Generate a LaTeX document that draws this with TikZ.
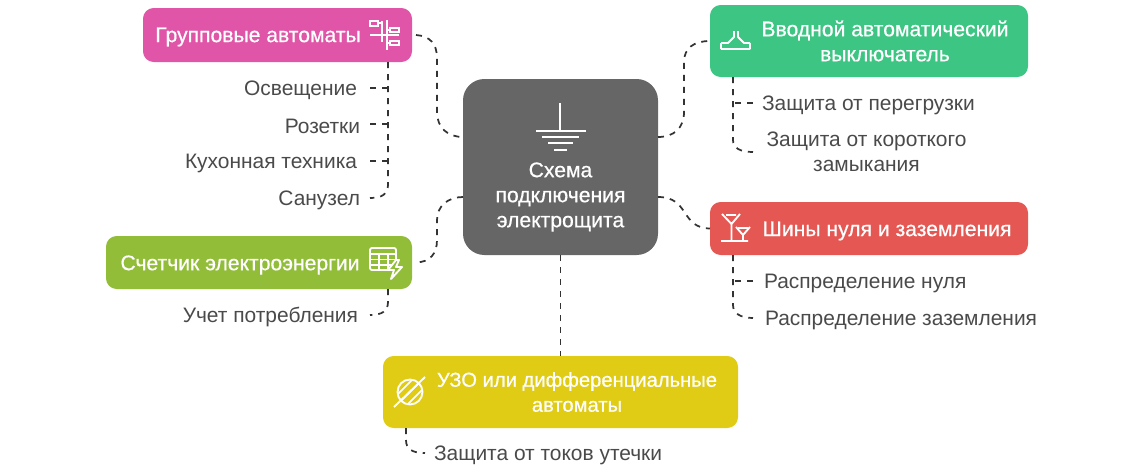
\documentclass[tikz,border=0pt]{standalone}
\usepackage{fontspec}
\usetikzlibrary{calc}
\setmainfont{Liberation Sans}
\newfontfamily\boxfont[FakeBold=0.6]{Liberation Sans}
\definecolor{cpink}{HTML}{E055A8}
\definecolor{cgreen}{HTML}{3DC583}
\definecolor{cred}{HTML}{E55753}
\definecolor{colive}{HTML}{92BD39}
\definecolor{cyel}{HTML}{E0CB15}
\definecolor{cgrey}{HTML}{666666}
\definecolor{ctext}{HTML}{4A4A4A}
\definecolor{cline}{HTML}{333333}
\tikzset{
  x=0.75pt,y=-0.75pt,
  sub/.style={fill=#1,rounded corners=8pt,text=white,inner sep=0pt,outer sep=0pt,align=center},
  lab/.style={text=ctext,inner sep=0pt,outer sep=0pt,align=center,font=\fontsize{15.7}{18.75}\selectfont},
  ttl/.style={text=white,inner sep=0pt,outer sep=0pt,align=center,font=\boxfont\fontsize{15.85}{18.75}\selectfont},
  conn/.style={draw=cline,line width=1.3pt,dash pattern=on 4.5pt off 4.5pt},
  ico/.style={draw=white,line width=1.4pt},
}
\newcommand{\bx}[7][]{\node[sub=#3,#1,minimum width=#6*0.75pt-#4*0.75pt,minimum height=#7*0.75pt-#5*0.75pt] (#2) at ({(#4+#6)/2},{(#5+#7)/2}) {};}
\begin{document}
\begin{tikzpicture}
\useasboundingbox (0,0) rectangle (1140,471);
\bx[rounded corners=16pt]{ctr}{cgrey}{463}{79}{658}{255}
\bx{pk}{cpink}{143}{8}{412}{62}
\bx{gr}{cgreen}{710}{5}{1028}{77}
\bx{rd}{cred}{710}{202}{1028}{255}
\bx{ol}{colive}{106}{236}{412}{289}
\bx{ye}{cyel}{383}{356}{738}{428}
% titles
\node[ttl] (tc) at (560.5,197) {Схема\\подключения\\электрощита};
\node[ttl] (tp) at (258,37) {Групповые автоматы};
\node[ttl] (tg) at (885,41) {Вводной автоматический\\выключатель};
\node[ttl] (tr) at (887,231) {Шины нуля и заземления};
\node[ttl] (to) at (240,265) {Счетчик электроэнергии};
\node[ttl,font=\boxfont\fontsize{15.15}{18.75}\selectfont] (ty) at (577,392) {УЗО или дифференциальные\\автоматы};
% labels
\node[lab,anchor=east] (l1) at (357,90) {Освещение};
\node[lab,anchor=east] (l2) at (360,126) {Розетки};
\node[lab,anchor=east] (l3) at (357,163) {Кухонная техника};
\node[lab,anchor=east] (l4) at (360,200) {Санузел};
\node[lab,anchor=east] (l5) at (358,317) {Учет потребления};
\node[lab,anchor=west] (r1) at (762,105) {Защита от перегрузки};
\node[lab] (r2) at (866.5,152) {Защита от короткого\\замыкания};
\node[lab,anchor=west] (r3) at (764,283) {Распределение нуля};
\node[lab,anchor=west] (r4) at (765,320) {Распределение заземления};
\node[lab,anchor=west] (y1) at (434,455) {Защита от токов утечки};
% hub connectors
\draw[conn] ($(pk.east)+(4,0)$) .. controls (430,36) and (437,44) .. (437,58) -- (437,112) .. controls (437,128) and (448,137) .. ($(ctr.west)+(0,-30)$);
\draw[conn] ($(ctr.west)+(0,30)$) .. controls (448,197) and (437,206) .. (437,220) -- (437,240) .. controls (437,254) and (430,262) .. ($(ol.east)+(4,0)$);
\draw[conn] ($(ctr.east)+(0,-30)$) .. controls (674,137) and (684,128) .. (684,112) -- (684,62) .. controls (684,48) and (694,41) .. (gr.west);
\draw[conn] ($(ctr.east)+(0,30)$) .. controls (690,197) and (680,228) .. (rd.west);
\draw[conn] (ctr.south) -- (ctr.south |- ye.north);
% children
\draw[conn] (388,62) -- (388,185) .. controls (388,194) and (382,198) .. (370,198);
\draw[conn] (370,88) -- (388,88);
\draw[conn] (370,124) -- (388,124);
\draw[conn] (370,161) -- (388,161);
\draw[conn] (388,289) -- (388,302) .. controls (388,311) and (382,315) .. (370,315);
\draw[conn] (733,77) -- (733,140) .. controls (733,148) and (740,152) .. (753,152);
\draw[conn] (753,103) -- (733,103);
\draw[conn] (733,255) -- (733,305) .. controls (733,313) and (740,318) .. (753,318);
\draw[conn] (753,281) -- (733,281);
\draw[conn] (406,428) -- (406,440) .. controls (406,449) and (412,453) .. (425,453);
% ground icon
\draw[ico] (560,103) -- (560,130) (536,131) -- (586,131) (542,137) -- (579,137) (548,143) -- (573,143) (554,150) -- (567,150);
% pink icon
\draw[ico,line width=1.2pt] (370,21) rectangle (378,26) (390,28) rectangle (399,32) (390,41) rectangle (399,45);
\draw[ico] (382,21) -- (382,42) (387,20) -- (387,50) (370,35) -- (399,35) (378,23) -- (382,23) (387,30) -- (390,30) (387,43) -- (390,43);
% green icon
\draw[ico,line join=round] (721,43) -- (728,43) -- (734,37) -- (734,31) (738,31) -- (738,37) -- (744,43) -- (750,43) (721,49) -- (750,49) (721,43) -- (721,49) (750,43) -- (750,49);
% red icon
\draw[ico,line join=round] (721,241) -- (748,241) (731.5,241) -- (731.5,222) (722,214) -- (731.5,224) -- (740,214) (726,215) -- (736,215) (743,241) -- (743,233) (736,227) -- (743,235) -- (750,227) (738,228) -- (748,228);
% olive icon
\draw[ico,rounded corners=1.5pt] (370,248) rectangle (396,270);
\draw[ico] (370,254) -- (396,254) (370,259.5) -- (396,259.5) (370,265) -- (396,265) (379,254) -- (379,270) (388,254) -- (388,270);
\draw[ico,fill=colive,line join=round] (396,260) -- (388,270) -- (394,270) -- (391,279) -- (402,267) -- (396,267) -- (399,260) -- cycle;
% yellow icon
\draw[ico] (410,392) circle (12.5);
\begin{scope}
\clip (410,392) circle (12.5);
\foreach \d in {-10,-5,0,5,10} \draw[ico,line width=1.2pt] (397+\d,405+\d) -- (423+\d,379+\d);
\end{scope}
\draw[ico] (394,407) -- (425,377);
\end{tikzpicture}
\end{document}
